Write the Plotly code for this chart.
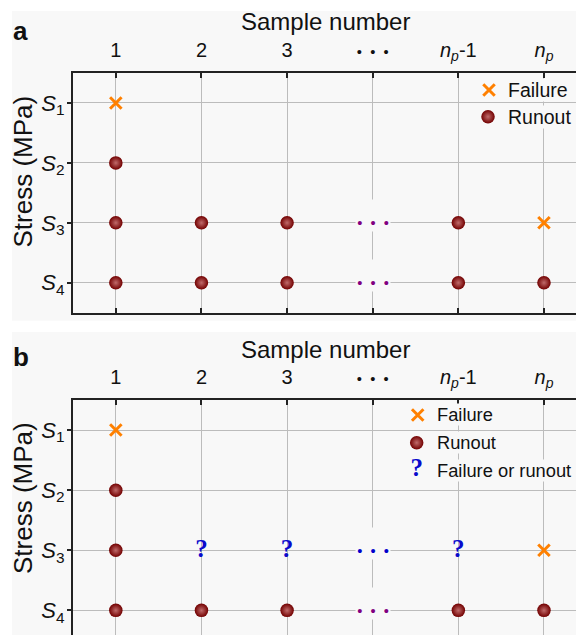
import plotly.graph_objects as go

# ---------------- data ----------------
sample_ticks = [1, 2, 3, 4, 5, 6]
DOTS_LABEL = "<span style='font-size:14.7px'>•\u00a0\u00a0•\u00a0\u00a0•</span>"
sample_labels = ["1", "2", "3", DOTS_LABEL,
                 "<i>n</i><sub><i>p</i></sub>-1", "<i>n</i><sub><i>p</i></sub>"]
stress_ticks = [1, 2, 3, 4]
stress_labels = ["<i>S</i><sub>1</sub>", "<i>S</i><sub>2</sub>",
                 "<i>S</i><sub>3</sub>", "<i>S</i><sub>4</sub>"]

# panel a
a_failure_x = [1, 6]
a_failure_y = [1, 3]
a_runout_x = [1, 1, 2, 3, 5, 1, 2, 3, 5, 6]
a_runout_y = [2, 3, 3, 3, 3, 4, 4, 4, 4, 4]
a_dots_x = [4, 4]
a_dots_y = [3, 4]
a_dots_colors = ["#800080", "#800080"]

# panel b
b_failure_x = [1, 6]
b_failure_y = [1, 3]
b_runout_x = [1, 1, 1, 2, 3, 5, 6]
b_runout_y = [2, 3, 4, 4, 4, 4, 4]
b_question_x = [2, 3, 5]
b_question_y = [3, 3, 3]
b_dots_x = [4, 4]
b_dots_y = [3, 4]
b_dots_colors = ["#0000cc", "#800080"]

# ---------------- styling ----------------
W, H = 576, 635
BG = "#f8f8f8"
GRID = "#bcbcbc"
AX = "#222222"
FONT = "Liberation Sans, Arial, sans-serif"
SERIF = "Liberation Serif, Times New Roman, serif"
ORANGE = "#ff8000"
DARKRED = "#720000"
QBLUE = "#0a0acc"


def fx(px):
    return px / W


def fy(py):
    return 1 - py / H


runout_marker = dict(symbol="circle", size=13.5, color=DARKRED,
                     gradient=dict(type="radial", color="#c06a6a"),
                     line=dict(width=0))
failure_marker = dict(symbol="x-thin", size=11.5, line=dict(width=3, color=ORANGE),
                      color=ORANGE)
q_font = dict(family=SERIF, size=25, color=QBLUE, weight="bold")

fig = go.Figure()

# panel a data
fig.add_trace(go.Scatter(x=a_runout_x, y=a_runout_y, mode="markers",
                         marker=runout_marker, xaxis="x", yaxis="y",
                         showlegend=False, cliponaxis=False))
fig.add_trace(go.Scatter(x=a_failure_x, y=a_failure_y, mode="markers",
                         marker=failure_marker, xaxis="x", yaxis="y",
                         showlegend=False, cliponaxis=False))
# panel b data
fig.add_trace(go.Scatter(x=b_runout_x, y=b_runout_y, mode="markers",
                         marker=runout_marker, xaxis="x2", yaxis="y2",
                         showlegend=False, cliponaxis=False))
fig.add_trace(go.Scatter(x=b_failure_x, y=b_failure_y, mode="markers",
                         marker=failure_marker, xaxis="x2", yaxis="y2",
                         showlegend=False, cliponaxis=False))
fig.add_trace(go.Scatter(x=b_question_x, y=b_question_y, mode="text",
                         text=["?"] * len(b_question_x), textfont=q_font,
                         textposition="middle center",
                         xaxis="x2", yaxis="y2", showlegend=False))

# legend keys (overlay axes in pixel units)
fig.add_trace(go.Scatter(x=[489], y=[90], mode="markers", marker=failure_marker,
                         xaxis="x3", yaxis="y3", showlegend=False))
fig.add_trace(go.Scatter(x=[488], y=[116.7], mode="markers", marker=runout_marker,
                         xaxis="x3", yaxis="y3", showlegend=False))
fig.add_trace(go.Scatter(x=[417.7], y=[415], mode="markers", marker=failure_marker,
                         xaxis="x4", yaxis="y4", showlegend=False))
fig.add_trace(go.Scatter(x=[416.7], y=[442.7], mode="markers", marker=runout_marker,
                         xaxis="x4", yaxis="y4", showlegend=False))
fig.add_trace(go.Scatter(x=[416.7], y=[470], mode="text", text=["?"], textfont=q_font,
                         xaxis="x4", yaxis="y4", showlegend=False))

xcommon = dict(tickvals=sample_ticks, ticktext=sample_labels, side="top",
               ticks="inside", ticklen=5, tickwidth=1.5, tickcolor=AX,
               showline=True, linewidth=2, linecolor=AX,
               showgrid=True, gridcolor=GRID, gridwidth=1, zeroline=False,
               tickfont=dict(family=FONT, size=20, color="#111"),
               ticklabelstandoff=6, fixedrange=True)
ycommon = dict(tickvals=stress_ticks, ticktext=stress_labels,
               ticks="outside", ticklen=4, tickwidth=1.5, tickcolor=AX,
               showline=True, linewidth=2, linecolor=AX,
               showgrid=True, gridcolor=GRID, gridwidth=1, zeroline=False,
               tickfont=dict(family=FONT, size=22, color="#111"),
               ticklabelstandoff=-2, fixedrange=True)

layout = dict(
    width=W, height=H, margin=dict(l=0, r=0, t=0, b=0),
    paper_bgcolor="white", plot_bgcolor=BG, showlegend=False,
    xaxis=dict(domain=[fx(73), 1], range=[0.5, 6.374], anchor="y",
               mirror="ticks", **xcommon),
    yaxis=dict(domain=[fy(312.7), fy(73)], range=[4.5, 0.5], anchor="x", **ycommon),
    xaxis2=dict(domain=[fx(73), 1], range=[0.5, 6.374], anchor="y2", **xcommon),
    yaxis2=dict(domain=[0, fy(400)], range=[4.41, 0.5], anchor="x2", **ycommon),
    xaxis3=dict(overlaying="x", range=[73, 576], visible=False, anchor="y3", fixedrange=True),
    yaxis3=dict(overlaying="y", range=[312.7, 73], visible=False, anchor="x3", fixedrange=True),
    xaxis4=dict(overlaying="x2", range=[73, 576], visible=False, anchor="y4", fixedrange=True),
    yaxis4=dict(overlaying="y2", range=[635, 400], visible=False, anchor="x4", fixedrange=True),
)
fig.update_layout(**layout)

# grey panel backgrounds
fig.add_shape(type="rect", xref="paper", yref="paper", x0=fx(12), x1=1,
              y0=fy(320.7), y1=fy(11), fillcolor=BG, line_width=0, layer="below")
fig.add_shape(type="rect", xref="paper", yref="paper", x0=fx(12), x1=1,
              y0=0, y1=fy(332), fillcolor=BG, line_width=0, layer="below")

ann = []
DOT_TEXT = "•\u00a0\u00a0•\u00a0\u00a0•"
for xs, ys, cs, xr, yr in [(a_dots_x, a_dots_y, a_dots_colors, "x", "y"),
                           (b_dots_x, b_dots_y, b_dots_colors, "x2", "y2")]:
    for xv, yv, cv in zip(xs, ys, cs):
        ann.append(dict(x=xv, y=yv, xref=xr, yref=yr, text=DOT_TEXT,
                        showarrow=False, font=dict(family=FONT, size=14.7, color=cv),
                        bgcolor=BG, width=34, height=31, valign="bottom",
                        yshift=7, borderpad=0))

# axis titles and panel labels
for ty in [21.5, 349]:
    ann.append(dict(x=fx(325), y=fy(ty), xref="paper", yref="paper",
                    text="Sample number", showarrow=False,
                    font=dict(family=FONT, size=24, color="#111"),
                    xanchor="center", yanchor="middle"))
for ty in [171.5, 498]:
    ann.append(dict(x=fx(23), y=fy(ty), xref="paper", yref="paper",
                    text="Stress (MPa)", showarrow=False, textangle=-90,
                    font=dict(family=FONT, size=26, color="#111"),
                    xanchor="center", yanchor="middle"))
for lab, ty in [("a", 31.2), ("b", 357)]:
    ann.append(dict(x=fx(20.5), y=fy(ty), xref="paper", yref="paper",
                    text=f"<b>{lab}</b>", showarrow=False,
                    font=dict(family=FONT, size=26, color="#111"),
                    xanchor="center", yanchor="middle"))

# legend texts
for txt, lx, ly, fs in [("Failure", 506.5, 90, 19.5), ("Runout", 506.5, 116.7, 19.5),
                        ("Failure", 435.5, 415, 18.3), ("Runout", 435.5, 442.7, 18.3),
                        ("Failure or runout", 435.5, 470, 18.3)]:
    ann.append(dict(x=fx(lx), y=fy(ly), xref="paper", yref="paper",
                    text=txt, showarrow=False, bgcolor=BG, borderpad=0,
                    font=dict(family=FONT, size=fs, color="#111"),
                    xanchor="left", yanchor="middle"))

fig.update_layout(annotations=ann)
fig.write_html("out.html")
